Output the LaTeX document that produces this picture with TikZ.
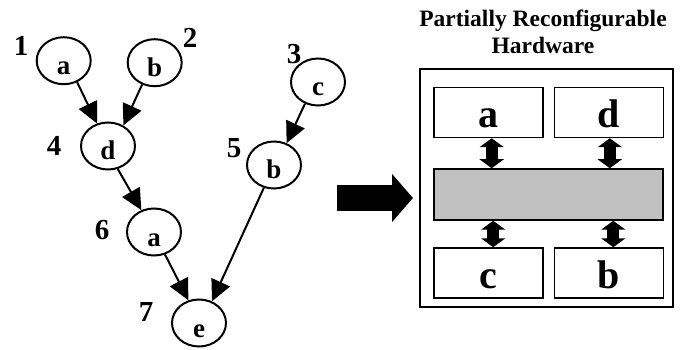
\documentclass[tikz,border=0pt]{standalone}
\usepackage{fontspec}
\setmainfont{Liberation Serif}
\usetikzlibrary{arrows.meta,shapes.geometric}
\begin{document}
\begin{tikzpicture}[x=1pt,y=-1pt,
  task/.style={draw,line width=2pt,ellipse,minimum width=54pt,minimum height=47pt,inner sep=0pt,
    font=\fontsize{27}{27}\selectfont\bfseries,text height=28pt,text depth=0pt},
  num/.style={font=\fontsize{29}{29}\selectfont\bfseries,inner sep=0pt},
  dep/.style={line width=2pt,-{Triangle[length=21pt,width=20pt]}},
  slot/.style={draw,line width=1.5pt,inner sep=0pt,font=\fontsize{40}{40}\selectfont\bfseries,text height=30pt,text depth=0pt},
  dbl/.style={line width=12pt,{Triangle[length=9pt,width=24pt]}-{Triangle[length=9pt,width=24pt]}},
  bigarrow/.style={line width=26pt,-{Triangle[length=21pt,width=47pt]}},
  title/.style={font=\fontsize{23.5}{23.5}\selectfont\bfseries,inner sep=0pt,anchor=base}]
\useasboundingbox (0,0) rectangle (686,350);
% graph
\node[task] (n1) at (63.7,60.7) {a};
\node[task] (n2) at (154.7,62.7) {b};
\node[task] (n3) at (318,82) {c};
\node[task] (n4) at (108,146) {d};
\node[task] (n5) at (274,165) {b};
\node[task] (n6) at (154,232) {a};
\node[task] (n7) at (199,323) {e};
\node[num] (l1) at (21,46) {1};
\node[num] (l2) at (190,37.5) {2};
\node[num] (l3) at (294,54) {3};
\node[num] (l4) at (54,146) {4};
\node[num] (l5) at (234,148) {5};
\node[num] (l6) at (102,230) {6};
\node[num] (l7) at (146,312) {7};
\draw[dep] (n1.302) -- (n4.116);
\draw[dep] (n2.240) -- (n4.53);
\draw[dep] (n3.239) -- (n5.60);
\draw[dep] (n4.293) -- (n6.120);
\draw[dep] (n6.296) -- (n7.115);
\draw[dep] (n5.246) -- (n7.59);
% big arrow
\coordinate (bs) at (337,198);
\coordinate (be) at (413,198);
\draw[bigarrow] (bs) -- (be);
% hardware
\node[title] (t1) at (543,26.7) {Partially Reconfigurable};
\node[title] (t2) at (543,53.3) {Hardware};
\draw[line width=1.5pt] (420,69) rectangle (673,307);
\node[slot,minimum width=109pt,minimum height=50pt] (ba) at (488.7,112.5) {a};
\node[slot,minimum width=109pt,minimum height=50pt] (bd) at (608.8,112.5) {d};
\node[slot,minimum width=229pt,minimum height=51pt,fill={rgb,255:red,192;green,192;blue,192}] (bus) at (548.7,194.5) {};
\node[slot,minimum width=109pt,minimum height=50pt] (bc) at (488.7,273) {c};
\node[slot,minimum width=109pt,minimum height=50pt] (bb) at (608.8,273) {b};
\draw[dbl] ([xshift=3pt]ba.south) -- ([xshift=3pt]ba.south |- bus.north);
\draw[dbl] ([xshift=1pt]bd.south) -- ([xshift=1pt]bd.south |- bus.north);
\draw[dbl] ([xshift=4.5pt]bc.north) -- ([xshift=4.5pt]bc.north |- bus.south);
\draw[dbl] ([xshift=4.5pt]bb.north) -- ([xshift=4.5pt]bb.north |- bus.south);
\end{tikzpicture}
\end{document}
